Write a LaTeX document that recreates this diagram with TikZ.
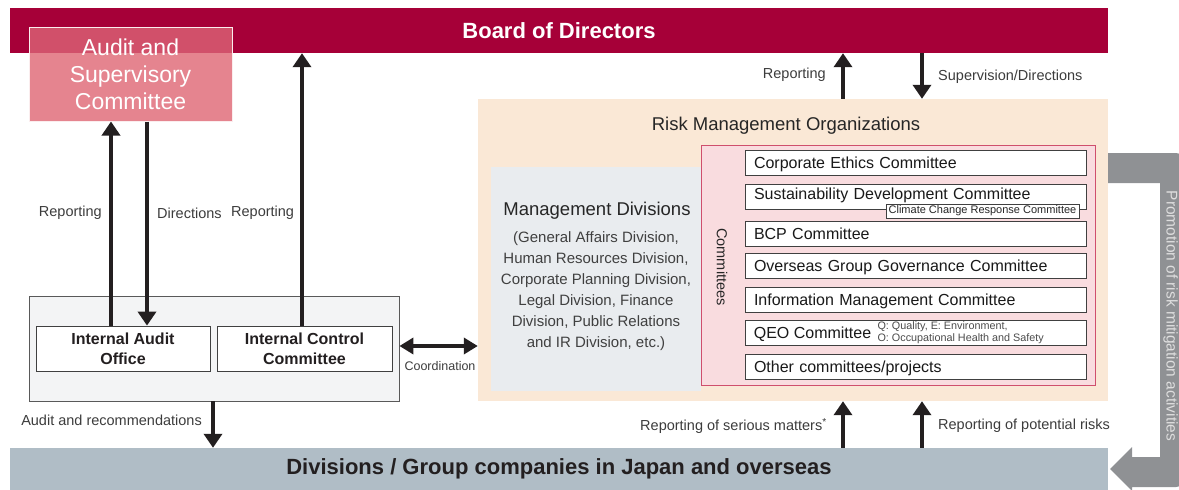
\documentclass[tikz,border=0pt]{standalone}
\usepackage{fontspec}
\setmainfont{Liberation Sans}
\usetikzlibrary{arrows.meta,calc}
\definecolor{boardc}{RGB}{166,0,56}
\definecolor{ascc}{RGB}{229,132,143}
\definecolor{ascdark}{RGB}{209,80,106}
\definecolor{rmoc}{RGB}{250,232,214}
\definecolor{mgmtc}{RGB}{233,236,239}
\definecolor{commc}{RGB}{249,220,223}
\definecolor{commb}{RGB}{207,79,109}
\definecolor{leftc}{RGB}{243,244,245}
\definecolor{bottomc}{RGB}{176,189,198}
\definecolor{grayarr}{RGB}{143,145,148}
\definecolor{grayt}{RGB}{222,222,222}
\definecolor{ink}{RGB}{35,31,32}
\definecolor{lbl}{RGB}{60,60,60}
\tikzset{
  bar/.style={fill=#1, draw=none, inner sep=0pt},
  arr/.style={draw=ink, line width=4pt, -{Triangle[width=18pt,length=14pt]}},
  darr/.style={draw=ink, line width=4pt, {Triangle[width=16pt,length=14pt]}-{Triangle[width=16pt,length=14pt]}},
  lab/.style={font=\fontsize{14.5}{17}\selectfont, text=lbl, inner sep=0pt},
  ibox/.style={draw=black!75, fill=white, line width=0.8pt, minimum width=#1, minimum height=45pt, inner sep=0pt, align=center, font=\fontsize{16}{20}\selectfont\bfseries, text=ink},
  cbox/.style={draw=black!75, fill=white, line width=0.8pt, minimum height=25pt, text width=323pt, text height=11.6pt, text depth=0pt, inner xsep=9pt, inner ysep=0pt, align=left, font=\fontsize{16}{19}\selectfont, text=black!90},
  cframe/.style={draw=black!75, fill=white, line width=0.8pt, minimum height=25pt, minimum width=341pt, inner sep=0pt},
}
\begin{document}
\begin{tikzpicture}[x=1pt,y=-1pt]
\useasboundingbox (0,0) rectangle (1179,490);
% Board
\node[bar=boardc, minimum width=1098pt, minimum height=45pt, text=white, font=\fontsize{22}{26}\selectfont\bfseries] (board) at (559,30.5) {Board of Directors};
% Audit and Supervisory Committee
\node[fill=ascc, draw=white!85!ascc, line width=1pt, minimum width=203pt, minimum height=94pt, inner sep=0pt, align=center, text=white, font=\fontsize{23}{27}\selectfont,
  path picture={\fill[ascdark] (path picture bounding box.north west) rectangle (path picture bounding box.east |- board.south);}] (asc) at (130.5,74) {Audit and\\Supervisory\\Committee};
% left group
\node[fill=leftc, draw=black!65, line width=0.8pt, minimum width=370pt, minimum height=105pt, inner sep=0pt] (leftbox) at (214,348.5) {};
\node[ibox=174pt] (iao) at (123,348.5) {Internal Audit\\Office};
\node[ibox=175pt] (icc) at (304.5,348.5) {Internal Control\\Committee};
% bottom bar
\node[bar=bottomc, minimum width=1098pt, minimum height=42pt, text=ink, font=\fontsize{22}{26}\selectfont\bfseries] (bottom) at (559,469) {Divisions / Group companies in Japan and overseas};
% Risk management organizations
\node[bar=rmoc, minimum width=630pt, minimum height=302pt] (rmo) at (793,250) {};
\node[font=\fontsize{18.5}{22}\selectfont, text=black!85, inner sep=0pt] (rmotitle) at (786,126) {Risk Management Organizations};
\node[bar=mgmtc, minimum width=210pt, minimum height=224pt] (mgmt) at (596,279) {};
\node[font=\fontsize{18.5}{22}\selectfont, text=black!85, inner sep=0pt] (mgmttitle) at (597,211) {Management Divisions};
\node[font=\fontsize{15}{21}\selectfont, text=black!75, inner sep=0pt, align=center] (mgmtsub) at (596,291) {(General Affairs Division,\\Human Resources Division,\\Corporate Planning Division,\\Legal Division, Finance\\Division, Public Relations\\and IR Division, etc.)};
% Committees
\node[fill=commc, draw=commb, line width=1pt, minimum width=394pt, minimum height=240pt, inner sep=0pt] (comm) at (898,265) {};
\node[rotate=-90, font=\fontsize{14.5}{17}\selectfont, text=black!85, inner sep=0pt] (commlab) at (722,267) {Committees};
\node[cbox] (c1) at (915.5,162.5) {Corporate Ethics Committee};
\node[cbox, text depth=6pt] (c2) at (915.5,196.5) {Sustainability Development Committee};
\node[draw=black!75, fill=white, line width=0.6pt, minimum width=193pt, minimum height=14pt, inner sep=0pt, font=\fontsize{11}{12}\selectfont, text=black!85] (c2b) at (982.5,211) {Climate Change Response Committee};
\node[cbox] (c3) at (915.5,233.5) {BCP Committee};
\node[cbox] (c4) at (915.5,265.5) {Overseas Group Governance Committee};
\node[cbox] (c5) at (915.5,299.5) {Information Management Committee};
\node[cframe] (c6) at (915.5,332.5) {};
\node[anchor=west, font=\fontsize{16}{19}\selectfont, text=black!90, text height=11.6pt, text depth=0pt, inner sep=0pt] (c6t) at ([xshift=9pt]c6.west) {QEO Committee};
\node[anchor=west, font=\fontsize{10.8}{11.5}\selectfont, align=left, text=black!70, inner sep=0pt] (qeonote) at ([xshift=6pt]c6t.east) {Q: Quality, E: Environment,\\O: Occupational Health and Safety};
\node[cbox] (c7) at (915.5,367) {Other committees/projects};
% gray promotion arrow
\fill[grayarr, rounded corners=6pt] (1108,153) -- (1182,153) -- (1182,487) [sharp corners] -- (1132,487) -- (1132,491) -- (1110,469) -- (1132,447) -- (1132,457) -- (1160,457) -- (1160,183) -- (1108,183) -- cycle;
\node[rotate=-90, font=\fontsize{15.5}{18}\selectfont, text=grayt, inner sep=0pt] (promo) at (1170.5,316) {Promotion of risk mitigation activities};
% arrows left
\draw[arr] ([xshift=-12pt]iao.north) -- ([xshift=-12pt]iao.north |- asc.south);
\draw[arr] ([xshift=24pt]iao.north |- asc.south) -- ([xshift=24pt]iao.north);
\draw[arr] ([xshift=-2.5pt]icc.north) -- ([xshift=-2.5pt]icc.north |- board.south);
\draw[arr] ([xshift=-1pt]leftbox.south) -- ([xshift=-1pt]leftbox.south |- bottom.north);
\draw[darr] ([yshift=2.5pt]leftbox.east) -- ([yshift=2.5pt]leftbox.east -| rmo.west);
% arrows right
\draw[arr] ([xshift=50pt]rmo.north) -- ([xshift=50pt]rmo.north |- board.south);
\draw[arr] ([xshift=129pt]rmo.north |- board.south) -- ([xshift=129pt]rmo.north);
\draw[arr] ([xshift=50pt]rmo.south |- bottom.north) -- ([xshift=50pt]rmo.south);
\draw[arr] ([xshift=129pt]rmo.south |- bottom.north) -- ([xshift=129pt]rmo.south);
% labels
\node[lab, anchor=east] (l1) at (102,213) {Reporting};
\node[lab, anchor=west] (l2) at (157,213) {Directions};
\node[lab, anchor=west] (l3) at (231,213) {Reporting};
\node[lab, anchor=east] (l4) at (202,420) {Audit and recommendations};
\node[font=\fontsize{12.5}{15}\selectfont, text=lbl, inner sep=0pt] (l5) at (440,366) {Coordination};
\node[lab, anchor=east] (l6) at (826,75) {Reporting};
\node[lab, anchor=west] (l7) at (938,77) {Supervision/Directions};
\node[lab, anchor=east] (l8) at (827,426) {Reporting of serious matters\textsuperscript{*}};
\node[lab, anchor=west] (l9) at (938,426) {Reporting of potential risks};
\end{tikzpicture}
\end{document}
